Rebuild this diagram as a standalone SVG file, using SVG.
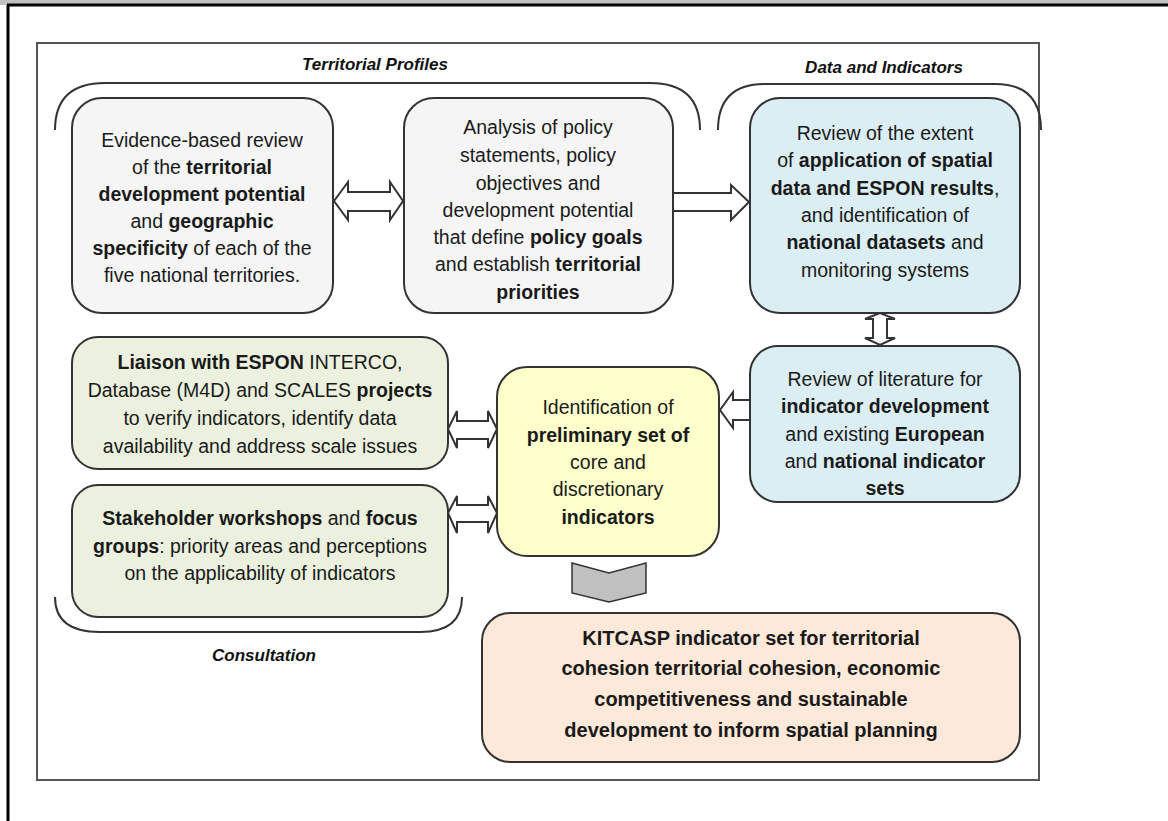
<svg xmlns="http://www.w3.org/2000/svg" width="1168" height="821" viewBox="0 0 1168 821">
<style>
.box{stroke:#333;stroke-width:2}
.t{font-family:"Liberation Sans",Arial,sans-serif;font-size:19.5px;fill:#1a1a1a;text-anchor:middle}
.b{font-weight:bold}
.h{font-family:"Liberation Sans",Arial,sans-serif;font-size:17px;font-weight:bold;font-style:italic;fill:#111;text-anchor:middle}
.k{font-family:"Liberation Sans",Arial,sans-serif;font-size:20px;font-weight:bold;fill:#1a1a1a;text-anchor:middle}
.br{fill:none;stroke:#333;stroke-width:2}
.ar{fill:#fff;stroke:#333;stroke-width:2;stroke-linejoin:miter}
</style>
<rect x="0" y="0" width="1168" height="821" fill="#fff"/>
<rect x="0" y="0" width="1168" height="5" fill="#c0c0c0"/>
<line x1="7" y1="5" x2="1168" y2="5" stroke="#000" stroke-width="3"/>
<line x1="8" y1="5" x2="8" y2="821" stroke="#000" stroke-width="3"/>
<rect x="37" y="43" width="1002" height="737" fill="#fff" stroke="#555" stroke-width="2"/>

<g id="brackets">
<path class="br" d="M55 130 Q55 83 105 83 L650 83 Q700 83 700 130"/>
<path class="br" d="M718 130 Q718 84 765 84 L995 84 Q1041 84 1041 130"/>
<path class="br" d="M55 597 Q55 632 100 632 L420 632 Q462 632 462 597"/>
</g>
<text class="h" x="375" y="70">Territorial Profiles</text>
<text class="h" x="884" y="73">Data and Indicators</text>
<text class="h" x="264" y="661">Consultation</text>

<g id="nodeA">
<rect class="box" x="72" y="98" width="261" height="215" rx="30" fill="#f5f5f5"/>
<text class="t" x="202" y="147">Evidence-based review</text>
<text class="t" x="202" y="174">of the <tspan class="b">territorial</tspan></text>
<text class="t b" x="202" y="201">development potential</text>
<text class="t" x="202" y="228">and <tspan class="b">geographic</tspan></text>
<text class="t" x="202" y="255"><tspan class="b">specificity</tspan> of each of the</text>
<text class="t" x="202" y="282">five national territories.</text>
</g>
<g id="nodeB">
<rect class="box" x="404" y="98" width="269" height="215" rx="30" fill="#f5f5f5"/>
<text class="t" x="538" y="134">Analysis of policy</text>
<text class="t" x="538" y="162">statements, policy</text>
<text class="t" x="538" y="190">objectives and</text>
<text class="t" x="538" y="217">development potential</text>
<text class="t" x="538" y="244">that define <tspan class="b">policy goals</tspan></text>
<text class="t" x="538" y="271">and establish <tspan class="b">territorial</tspan></text>
<text class="t b" x="538" y="299">priorities</text>
</g>
<g id="nodeC">
<rect class="box" x="750" y="98" width="270" height="215" rx="30" fill="#daeef3"/>
<text class="t" x="885" y="140">Review of the extent</text>
<text class="t" x="885" y="167">of <tspan class="b">application of spatial</tspan></text>
<text class="t" x="885" y="195"><tspan class="b">data and ESPON results</tspan>,</text>
<text class="t" x="885" y="222">and identification of</text>
<text class="t" x="885" y="249"><tspan class="b">national datasets</tspan> and</text>
<text class="t" x="885" y="277">monitoring systems</text>
</g>
<g id="nodeD">
<rect class="box" x="750" y="346" width="270" height="156" rx="28" fill="#daeef3"/>
<text class="t" x="885" y="386">Review of literature for</text>
<text class="t b" x="885" y="413">indicator development</text>
<text class="t" x="885" y="441">and existing <tspan class="b">European</tspan></text>
<text class="t" x="885" y="468">and <tspan class="b">national indicator</tspan></text>
<text class="t b" x="885" y="495">sets</text>
</g>
<g id="nodeE">
<rect class="box" x="72" y="337" width="376" height="132" rx="26" fill="#ebf1de"/>
<text class="t" x="260" y="369"><tspan class="b">Liaison with ESPON</tspan> INTERCO,</text>
<text class="t" x="260" y="397">Database (M4D) and SCALES <tspan class="b">projects</tspan></text>
<text class="t" x="260" y="425">to verify indicators, identify data</text>
<text class="t" x="260" y="453">availability and address scale issues</text>
</g>
<g id="nodeF">
<rect class="box" x="72" y="485" width="376" height="132" rx="26" fill="#ebf1de"/>
<text class="t" x="260" y="525"><tspan class="b">Stakeholder workshops</tspan> and <tspan class="b">focus</tspan></text>
<text class="t" x="260" y="553"><tspan class="b">groups</tspan>: priority areas and perceptions</text>
<text class="t" x="260" y="580">on the applicability of indicators</text>
</g>
<g id="nodeG">
<rect class="box" x="497" y="367" width="222" height="189" rx="30" fill="#ffffcc"/>
<text class="t" x="608" y="414">Identification of</text>
<text class="t b" x="608" y="442">preliminary set of</text>
<text class="t" x="608" y="469">core and</text>
<text class="t" x="608" y="496">discretionary</text>
<text class="t b" x="608" y="524">indicators</text>
</g>
<g id="nodeH">
<rect class="box" x="482" y="613" width="538" height="149" rx="28" fill="#fde9d9"/>
<text class="k" x="751" y="645">KITCASP indicator set for territorial</text>
<text class="k" x="751" y="675">cohesion territorial cohesion, economic</text>
<text class="k" x="751" y="706">competitiveness and sustainable</text>
<text class="k" x="751" y="737">development to inform spatial planning</text>
</g>

<g id="connectors">
<path class="ar" d="M334 201 L348 182 L348 192 L390 192 L390 182 L403 201 L390 220 L390 211 L348 211 L348 220 Z"/>
<path class="ar" d="M674 193 L731 193 L731 185 L749 202 L731 220 L731 211 L674 211"/>
<path class="ar" d="M880 313 L865 319 L873 319 L873 338 L865 338 L880 345 L895 338 L887 338 L887 319 L895 319 Z"/>
<path class="ar" d="M749 400 L733 400 L733 392 L720 410 L733 428 L733 420 L749 420"/>
<path class="ar" d="M448 429 L457 411 L457 421 L488 421 L488 411 L497 429 L488 448 L488 439 L457 439 L457 448 Z"/>
<path class="ar" d="M448 513 L457 496 L457 505 L488 505 L488 496 L497 513 L488 533 L488 522 L457 522 L457 533 Z"/>
<path d="M572 563 L609 573 L646 563 L646 593 L609 602 L572 593 Z" fill="#c0c0c0" stroke="#333" stroke-width="1.5"/>
</g>
</svg>
